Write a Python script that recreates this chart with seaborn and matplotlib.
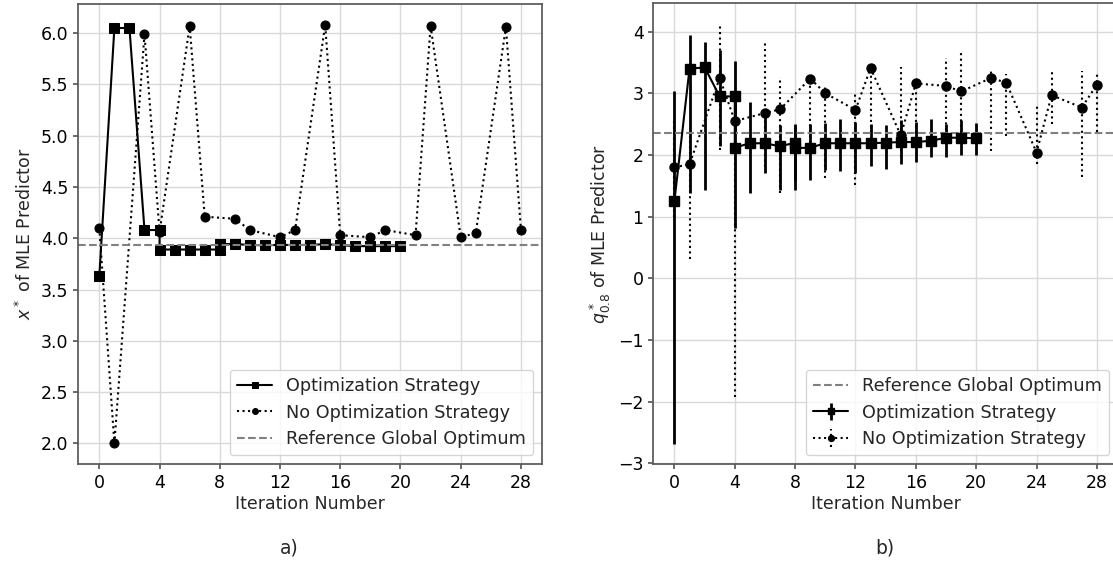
import numpy as np
import pandas as pd
import matplotlib
matplotlib.use("Agg")
import matplotlib.pyplot as plt
import seaborn as sns

# --------------------------------------------------
# data
# --------------------------------------------------

opt_iter = [0, 1, 2, 3, 4, 4, 5, 6, 7, 8, 8, 9, 10, 11, 12, 13, 14, 15, 16, 17, 18, 19, 20]
opt_x = [3.63, 6.05, 6.05, 4.08, 4.08, 3.89, 3.89, 3.89, 3.89, 3.89, 3.945, 3.942,
         3.936, 3.93, 3.936, 3.933, 3.936, 3.942, 3.933, 3.923, 3.923, 3.923, 3.923]

noopt_iter = [0, 1, 3, 4, 6, 7, 9, 10, 12, 13, 15, 16, 18, 19, 21, 22, 24, 25, 27, 28]
noopt_x = [4.10, 2.00, 5.99, 4.06, 6.07, 4.21, 4.19, 4.08, 4.01, 4.08,
           6.08, 4.03, 4.01, 4.08, 4.03, 6.07, 4.01, 4.05, 6.06, 4.08]

ref_x = 3.936

opt_q = [1.26, 3.40, 3.42, 2.95, 2.95, 2.12, 2.19, 2.19, 2.14, 2.20, 2.11, 2.12,
         2.19, 2.19, 2.19, 2.19, 2.20, 2.21, 2.21, 2.23, 2.28, 2.28, 2.27]
opt_q_lo = [-2.68, 1.38, 1.43, 2.14, 2.37, 0.81, 1.38, 1.71, 1.43, 1.43, 1.60, 1.59,
            1.75, 1.74, 1.70, 1.82, 1.77, 1.86, 1.88, 1.96, 1.96, 2.00, 2.00]
opt_q_hi = [3.04, 3.95, 3.84, 3.71, 3.53, 2.90, 2.86, 2.65, 2.49, 2.51, 2.45, 2.50,
            2.52, 2.59, 2.54, 2.50, 2.48, 2.56, 2.54, 2.59, 2.50, 2.57, 2.52]

noopt_q = [1.80, 1.85, 3.25, 2.55, 2.68, 2.74, 3.24, 3.00, 2.73, 3.41,
           2.32, 3.16, 3.12, 3.03, 3.25, 3.17, 2.04, 2.97, 2.77, 3.14]
noopt_q_lo = [1.00, 0.31, 2.08, -1.92, 1.80, 1.39, 2.20, 1.62, 1.51, 2.35,
              1.97, 2.35, 2.41, 2.27, 2.07, 2.30, 1.86, 2.51, 1.65, 2.38]
noopt_q_hi = [2.60, 2.30, 4.11, 3.00, 3.81, 3.26, 3.28, 3.10, 2.99, 3.45,
              3.42, 3.20, 3.58, 3.66, 3.39, 3.32, 2.82, 3.39, 3.37, 3.34]

ref_q = 2.35

xticks = [0, 4, 8, 12, 16, 20, 24, 28]

# --------------------------------------------------
# style
# --------------------------------------------------

sns.set_theme(style="whitegrid", rc={
    "axes.edgecolor": "0.35",
    "axes.linewidth": 1.25,
    "grid.color": "0.85",
    "xtick.bottom": True,
    "ytick.left": True,
    "xtick.color": "0.35",
    "ytick.color": "0.35",
    "xtick.labelcolor": "black",
    "ytick.labelcolor": "black",
    "xtick.major.size": 3.5,
    "ytick.major.size": 3.5,
    "font.size": 12,
    "axes.labelsize": 12.5,
    "xtick.labelsize": 12.5,
    "ytick.labelsize": 12.5,
    "legend.fontsize": 12.7,
})
plt.rcParams["font.family"] = ["DejaVu Sans"]

fig = plt.figure(figsize=(11.13, 5.64), dpi=100)
ax1 = fig.add_axes([0.0703, 0.1768, 0.4167, 0.8161])
ax2 = fig.add_axes([0.587, 0.1768, 0.4175, 0.8179])

MS = 6.5

# --------------------------------------------------
# a) x* of MLE predictor
# --------------------------------------------------

df_opt = pd.DataFrame({"it": opt_iter, "val": opt_x})
df_noopt = pd.DataFrame({"it": noopt_iter, "val": noopt_x})

sns.lineplot(data=df_opt, x="it", y="val", estimator=None, sort=False,
             color="black", marker="s", markersize=MS, linewidth=1.5,
             markeredgecolor="black", label="Optimization Strategy", ax=ax1)
sns.lineplot(data=df_noopt, x="it", y="val", estimator=None, sort=False,
             color="black", marker="o", markersize=MS, linewidth=1.5,
             markeredgecolor="black", linestyle=":",
             label="No Optimization Strategy", ax=ax1)
ax1.axhline(ref_x, color="gray", linestyle="--", linewidth=1.5,
            label="Reference Global Optimum")

ax1.set_xticks(xticks)
ax1.set_xlim(-1.4, 29.4)
ax1.set_ylim(1.796, 6.284)
ax1.set_xlabel("Iteration Number", labelpad=2)
ax1.set_ylabel("$x^*$ of MLE Predictor")
ax1.legend(loc="lower right", markerscale=0.65)

# --------------------------------------------------
# b) q*_0.8 of MLE predictor
# --------------------------------------------------

opt_err = [np.array(opt_q) - np.array(opt_q_lo), np.array(opt_q_hi) - np.array(opt_q)]
noopt_err = [np.array(noopt_q) - np.array(noopt_q_lo), np.array(noopt_q_hi) - np.array(noopt_q)]

ax2.errorbar(opt_iter, opt_q, yerr=opt_err, color="black", fmt="-s",
             markersize=MS, linewidth=1.5, elinewidth=2,
             label="Optimization Strategy")
eb = ax2.errorbar(noopt_iter, noopt_q, yerr=noopt_err, color="black", fmt=":o",
                  markersize=MS, linewidth=1.5, elinewidth=1.5,
                  label="No Optimization Strategy")
eb[2][0].set_linestyle(":")
ax2.axhline(ref_q, color="gray", linestyle="--", linewidth=1.5,
            label="Reference Global Optimum")

ax2.set_xticks(xticks)
ax2.set_xlim(-1.4, 29.4)
ax2.set_ylim(-3.016, 4.465)
ax2.set_xlabel("Iteration Number", labelpad=2)
ax2.set_ylabel("$q^*_{0.8}$ of MLE Predictor")
ax2.legend(loc="lower right", markerscale=0.65)

fig.text(0.26, 0.028, "a)", ha="center", va="center", fontsize=13.5)
fig.text(0.795, 0.028, "b)", ha="center", va="center", fontsize=13.5)

fig.savefig("out.png", dpi=100)
